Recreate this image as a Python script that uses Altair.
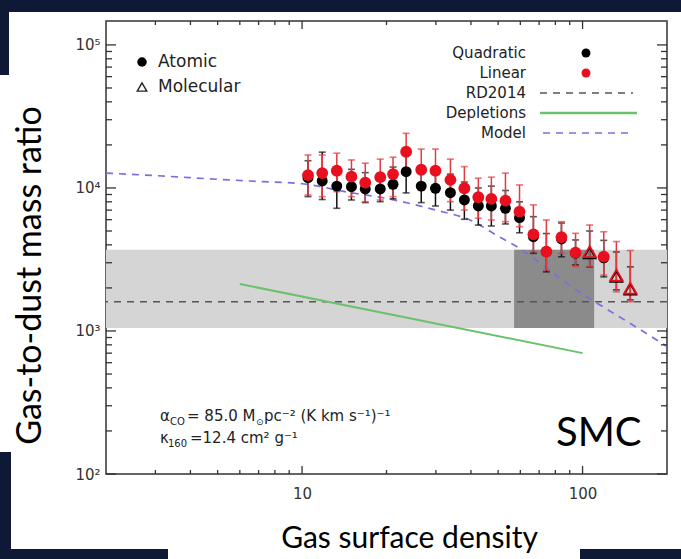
import altair as alt
import pandas as pd

# ---------------- data ----------------
sigma = [10.5, 11.8, 13.3, 15.0, 16.8, 19.0, 21.1, 23.5, 26.6, 29.9, 33.8, 37.9,
         42.5, 47.3, 53.1, 59.6, 66.8, 74.3, 84.1, 94.4, 106, 119, 132, 148]
phase = ["Atomic"] * 20 + ["Molecular", "Atomic", "Molecular", "Molecular"]

lin_gdr = [12300, 12700, 13200, 12000, 10900, 11900, 12500, 17900, 13400, 13200, 11400, 9950,
           8610, 8380, 8150, 6830, 4740, 3590, 4520, 3530, 3590, 3310, 2460, 1990]
lin_lo = [8930, 8690, 9420, 8690, 8020, 8240, 8690, 13400, 9680, 9420, 8020, 7010,
          6140, 5970, 5810, 5360, 3590, 2670, 3490, 2820, 2820, 2460, 1880, 1600]
lin_hi = [17000, 17000, 17500, 15700, 14900, 15900, 16400, 24100, 18700, 18700, 15900, 14100,
          11700, 11900, 12700, 10500, 7610, 5970, 5810, 4820, 5510, 4940, 4220, 3650]

quad_gdr = [11800, 11200, 10300, 10200, 9840, 9840, 10600, 13000, 10300, 9950, 9270, 8240,
            7480, 7480, 7210, 6200, 4560, 3590, 4400, 3500, 3500, 3250, 2400, 1950]
quad_lo = [8700, 8300, 7210, 8240, 7900, 8020, 8400, 9230, 7900, 7480, 7000, 6040,
           5500, 5420, 5600, 4860, 3490, 2590, 3300, 2900, 2800, 2390, 1940, 1650]
quad_hi = [15500, 17800, 14000, 13500, 12800, 12600, 14000, 17600, 13800, 13200, 12500, 11000,
           10000, 10300, 9600, 8000, 6300, 4800, 5690, 4330, 5000, 4300, 3570, 2810]

model_sigma = [2, 3, 5, 7, 10, 15, 20, 30, 40, 50, 60, 70, 80, 100, 120, 150, 200]
model_gdr = [12700, 12200, 11500, 11100, 10700, 9250, 8450, 7000, 5930, 4600, 3750, 3010,
             2470, 1810, 1450, 1110, 780]

depl_sigma = [6, 100]
depl_gdr = [2130, 700]

rd2014_gdr = [1600]
rd2014_range = [1050, 3700]
sigma_range = [2, 200]
box_sigma = [57, 110]

x_major_ticks = [10, 100]
x_minor_ticks = [3, 4, 5, 6, 7, 8, 9, 20, 30, 40, 50, 60, 70, 80, 90]
y_major_ticks = [100, 1000, 10000, 100000]
y_minor_ticks = [200, 300, 400, 500, 600, 700, 800, 900,
                 2000, 3000, 4000, 5000, 6000, 7000, 8000, 9000,
                 20000, 30000, 40000, 50000, 60000, 70000, 80000, 90000]

left_legend = ["Atomic", "Molecular"]
right_legend = ["Quadratic", "Linear", "RD2014", "Depletions", "Model"]
x_title = "Gas surface density"
y_title = "Gas-to-dust mass ratio"
panel_label = "SMC"

# ---------------- styling ----------------
W, H = 561, 453
RED = "#e8101e"
REDBAR = "#e33a40"
FRAME = "#333333"
NAVY = "#0e1a35"
GREEN = "#6cc26c"
PURPLE = "#7b6fe0"
IDL_FONT = "DejaVu Sans"
SLIDE_FONT = "Lato"

xscale = alt.Scale(type="log", domain=[2, 200], nice=False)
yscale = alt.Scale(type="log", domain=[100, 147000], nice=False)

xaxis = alt.Axis(values=x_major_ticks, format="d", tickSize=0, domain=False, grid=False,
                 labelFont=IDL_FONT, labelFontSize=15, labelColor="#333", labelPadding=12,
                 title=x_title, titleFont=SLIDE_FONT, titleFontSize=30, titleFontWeight="normal",
                 titleColor="#000", titleX=303, titleY=64, titleAlign="center",
                 titleBaseline="middle", zindex=1)
yaxis = alt.Axis(values=y_major_ticks,
                 labelExpr="datum.value >= 99999 ? '10\u2075' : datum.value >= 9999 ? '10\u2074' : datum.value >= 999 ? '10\u00b3' : '10\u00b2'",
                 tickSize=0, domain=False, grid=False,
                 labelFont=IDL_FONT, labelFontSize=15, labelColor="#333", labelPadding=6,
                 title=y_title, titleFont=SLIDE_FONT, titleFontSize=34, titleFontWeight="normal",
                 titleColor="#000", titleX=-76, titleY=254, titleAngle=270,
                 titleAlign="center", titleBaseline="middle", zindex=1)


def X(field):
    return alt.X(field, type="quantitative", scale=xscale, axis=xaxis)


def Y(field):
    return alt.Y(field, type="quantitative", scale=yscale, axis=yaxis)


pts = pd.DataFrame({"sigma": sigma, "phase": phase,
                    "lin": lin_gdr, "lin_lo": lin_lo, "lin_hi": lin_hi,
                    "quad": quad_gdr, "quad_lo": quad_lo, "quad_hi": quad_hi})
base = alt.Chart(pts)

one = alt.Data(values=[{}])


def deco_rect(x, x2, y, y2, color):
    return alt.Chart(one).mark_rect(color=color).encode(
        x=alt.value(x), x2=alt.value(x2), y=alt.value(y), y2=alt.value(y2))


def txt(s, x, y, size, font=IDL_FONT, color="#222", align="left", baseline="middle"):
    return alt.Chart(one).mark_text(text=s, font=font, fontSize=size, color=color,
                                    align=align, baseline=baseline).encode(
        x=alt.value(x), y=alt.value(y))


layers = []

# slide background pieces (outside plot area)
layers += [
    deco_rect(-106, 575, -21, -9, NAVY),
    deco_rect(-106, -97, -21, 54, NAVY),
    deco_rect(-106, -95, 431, 538, NAVY),
    deco_rect(-106, 62, 528, 538, NAVY),
    deco_rect(474, 575, 528, 538, NAVY),
]

# bands
band = pd.DataFrame({"x": [sigma_range[0]], "x2": [sigma_range[1]],
                     "y": [rd2014_range[0]], "y2": [rd2014_range[1]]})
box = pd.DataFrame({"x": [box_sigma[0]], "x2": [box_sigma[1]],
                    "y": [rd2014_range[0]], "y2": [rd2014_range[1]]})
layers.append(alt.Chart(band).mark_rect(color="#d5d5d5", clip=True).encode(
    x=X("x"), x2="x2", y=Y("y"), y2="y2"))
layers.append(alt.Chart(box).mark_rect(color="#8b8b8b", clip=True).encode(
    x=X("x"), x2="x2", y=Y("y"), y2="y2"))

# RD2014 line
layers.append(alt.Chart(pd.DataFrame({"y": rd2014_gdr})).mark_rule(
    color="#555", strokeWidth=1.5, strokeDash=[7, 6]).encode(y=Y("y")))

# depletions
layers.append(alt.Chart(pd.DataFrame({"x": depl_sigma, "y": depl_gdr})).mark_line(
    color=GREEN, strokeWidth=2, clip=True).encode(x=X("x"), y=Y("y")))

# model
layers.append(alt.Chart(pd.DataFrame({"x": model_sigma, "y": model_gdr})).mark_line(
    color=PURPLE, strokeWidth=1.7, strokeDash=[7, 6], clip=True, interpolate="monotone").encode(
    x=X("x"), y=Y("y")))

# error bars
layers.append(base.mark_rule(color="#111", strokeWidth=1.5).encode(
    x=X("sigma"), y=Y("quad_lo"), y2="quad_hi"))
layers.append(base.mark_tick(color="#111", orient="horizontal", size=7, thickness=1.6).encode(
    x=X("sigma"), y=Y("quad_lo")))
layers.append(base.mark_tick(color="#111", orient="horizontal", size=7, thickness=1.6).encode(
    x=X("sigma"), y=Y("quad_hi")))
layers.append(base.mark_rule(color=REDBAR, strokeWidth=1.5).encode(
    x=X("sigma"), y=Y("lin_lo"), y2="lin_hi"))
layers.append(base.mark_tick(color=REDBAR, orient="horizontal", size=7, thickness=1.6).encode(
    x=X("sigma"), y=Y("lin_lo")))
layers.append(base.mark_tick(color=REDBAR, orient="horizontal", size=7, thickness=1.6).encode(
    x=X("sigma"), y=Y("lin_hi")))

# points
atomic = alt.datum.phase == "Atomic"
molec = alt.datum.phase == "Molecular"
layers.append(base.transform_filter(atomic).mark_point(
    shape="circle", filled=True, color="#000", size=120, opacity=1).encode(
    x=X("sigma"), y=Y("quad")))
layers.append(base.transform_filter(molec).mark_point(
    shape="triangle-up", filled=False, color="#000", size=150, strokeWidth=1.5, opacity=1).encode(
    x=X("sigma"), y=Y("quad")))
layers.append(base.transform_filter(atomic).mark_point(
    shape="circle", filled=True, color=RED, size=140, opacity=1).encode(
    x=X("sigma"), y=Y("lin")))
layers.append(base.transform_filter(molec).mark_point(
    shape="triangle-up", filled=False, color=RED, size=160, strokeWidth=1.8, opacity=1).encode(
    x=X("sigma"), y=Y("lin")))

# inward ticks
def xticks(vals, length):
    d = alt.Chart(pd.DataFrame({"x": vals}))
    return [d.mark_rule(color=FRAME, strokeWidth=1.3).encode(
                x=X("x"), y=alt.value(H), y2=alt.value(H - length)),
            d.mark_rule(color=FRAME, strokeWidth=1.3).encode(
                x=X("x"), y=alt.value(0), y2=alt.value(length))]


def yticks(vals, length):
    d = alt.Chart(pd.DataFrame({"y": vals}))
    return [d.mark_rule(color=FRAME, strokeWidth=1.3).encode(
                y=Y("y"), x=alt.value(0), x2=alt.value(length)),
            d.mark_rule(color=FRAME, strokeWidth=1.3).encode(
                y=Y("y"), x=alt.value(W), x2=alt.value(W - length))]


layers += xticks(x_major_ticks, 8) + xticks(x_minor_ticks, 4)
layers += yticks(y_major_ticks, 10) + yticks(y_minor_ticks, 6)

# left legend
layers.append(alt.Chart(one).mark_point(shape="circle", filled=True, color="#000", size=90,
                                        opacity=1).encode(x=alt.value(36), y=alt.value(41)))
layers.append(alt.Chart(one).mark_point(shape="triangle-up", filled=False, color="#222", size=90,
                                        strokeWidth=1.4, opacity=1).encode(
    x=alt.value(36), y=alt.value(66)))
layers.append(txt(left_legend[0], 52, 41, 17))
layers.append(txt(left_legend[1], 52, 66, 17))

# right legend
for i, lab in enumerate(right_legend):
    layers.append(txt(lab, 420, 32 + 20 * i, 15, align="right"))
layers.append(alt.Chart(one).mark_point(shape="circle", filled=True, color="#000", size=80,
                                        opacity=1).encode(x=alt.value(480), y=alt.value(32)))
layers.append(alt.Chart(one).mark_point(shape="circle", filled=True, color=RED, size=80,
                                        opacity=1).encode(x=alt.value(480), y=alt.value(52)))
layers.append(alt.Chart(one).mark_rule(color="#555", strokeWidth=1.5, strokeDash=[7, 6]).encode(
    x=alt.value(434), x2=alt.value(527), y=alt.value(72)))
layers.append(alt.Chart(one).mark_rule(color=GREEN, strokeWidth=2.5).encode(
    x=alt.value(434), x2=alt.value(531), y=alt.value(92)))
layers.append(alt.Chart(one).mark_rule(color=PURPLE, strokeWidth=1.7, strokeDash=[7, 6]).encode(
    x=alt.value(437), x2=alt.value(527), y=alt.value(112)))

# annotation text
layers += [
    txt("\u03b1", 54, 400, 15, baseline="alphabetic"),
    txt("CO", 64, 404, 10, baseline="alphabetic"),
    txt("= 85.0 M", 81, 400, 15, baseline="alphabetic"),
    txt("\u2299", 150, 404, 9, baseline="alphabetic"),
    txt("pc\u207b\u00b2 (K km s\u207b\u00b9)\u207b\u00b9", 158, 400, 15, baseline="alphabetic"),
    txt("\u03ba", 54, 422, 15, baseline="alphabetic"),
    txt("160", 62, 426, 10, baseline="alphabetic"),
    txt("=12.4 cm\u00b2 g\u207b\u00b9", 84, 422, 15, baseline="alphabetic"),
]

# panel label
layers.append(txt(panel_label, 450, 425, 40, font=SLIDE_FONT, color="#000", baseline="alphabetic"))

chart = alt.layer(*layers).properties(
    width=W, height=H,
    autosize=alt.AutoSizeParams(type="none"),
    padding={"left": 106, "top": 21, "right": 14, "bottom": 85},
    background="white",
).configure_view(stroke=FRAME, strokeWidth=1.5)

chart.save("out.html", embed_options={"renderer": "svg", "actions": False})
